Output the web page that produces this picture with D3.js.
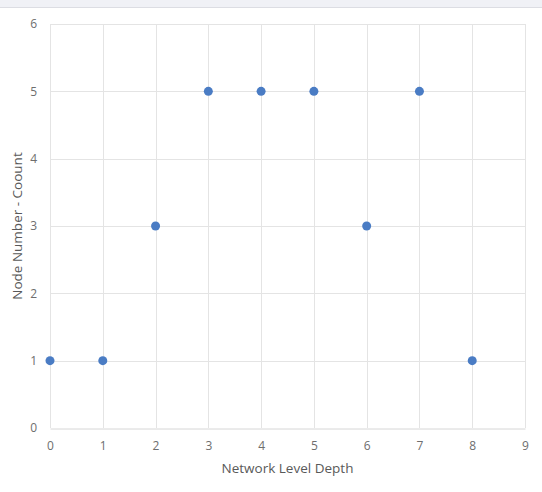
<!DOCTYPE html>
<html>
<head>
<meta charset="utf-8">
<script src="https://cdn.jsdelivr.net/npm/d3@7"></script>
<style>
  html, body { margin: 0; padding: 0; background: #ffffff; }
  svg { display: block; }
  text { font-family: "Open Sans", "Noto Sans", sans-serif; }
</style>
</head>
<body>
<svg id="chart" width="542" height="492"></svg>
<script>
// Node count per network level depth
const depths = [0, 1, 2, 3, 4, 5, 6, 7, 8];
const nodeCounts = [1, 1, 3, 5, 5, 5, 3, 5, 1];
const xTicks = [0, 1, 2, 3, 4, 5, 6, 7, 8, 9];
const yTicks = [0, 1, 2, 3, 4, 5, 6];
const xTitle = "Network Level Depth";
const yTitle = "Node Number - Coount";

const width = 542, height = 492;
const margin = { top: 24, right: 17, bottom: 64, left: 50 };

const svg = d3.select("#chart");

// light header strip across the top
svg.append("rect").attr("x", 0).attr("y", 0).attr("width", width).attr("height", 7)
  .attr("fill", "#f0f1f6");
svg.append("line").attr("x1", 0).attr("x2", width).attr("y1", 7.5).attr("y2", 7.5)
  .attr("stroke", "#dcdde3").attr("stroke-width", 1);

const x = d3.scaleLinear().domain([0, 9]).range([margin.left, width - margin.right]);
const y = d3.scaleLinear().domain([0, 6]).range([height - margin.bottom, margin.top]);

const grid = svg.append("g");
// horizontal gridlines
grid.selectAll("line.h").data(yTicks.filter(d => d > 0)).join("line")
  .attr("class", "h")
  .attr("x1", x(0)).attr("x2", x(9))
  .attr("y1", d => Math.round(y(d)) + 0.5).attr("y2", d => Math.round(y(d)) + 0.5)
  .attr("stroke", "#e4e4e4");
// vertical gridlines
grid.selectAll("line.v").data(xTicks).join("line")
  .attr("class", "v")
  .attr("x1", d => Math.round(x(d)) + 0.5).attr("x2", d => Math.round(x(d)) + 0.5)
  .attr("y1", y(6)).attr("y2", y(0))
  .attr("stroke", "#e4e4e4");

// bottom axis
const xAxis = svg.append("g")
  .attr("transform", `translate(0,${Math.round(y(0)) + 0.5})`)
  .call(d3.axisBottom(x).tickValues(xTicks).tickSize(0).tickPadding(13).tickFormat(d3.format("d")));
xAxis.select(".domain").attr("stroke", "#d6d6d6");
xAxis.selectAll("text").attr("fill", "#6e6e6e").attr("font-size", 12);

// left axis
const yAxis = svg.append("g")
  .attr("transform", `translate(${x(0)},0)`)
  .call(d3.axisLeft(y).tickValues(yTicks).tickSize(0).tickPadding(13).tickFormat(d3.format("d")));
yAxis.select(".domain").remove();
yAxis.selectAll("text").attr("fill", "#6e6e6e").attr("font-size", 12);

// axis titles
svg.append("text")
  .attr("x", (x(0) + x(9)) / 2).attr("y", 473)
  .attr("text-anchor", "middle").attr("font-size", 13.5).attr("fill", "#595959")
  .text(xTitle);
svg.append("text")
  .attr("transform", `translate(22,${(y(0) + y(6)) / 2}) rotate(-90)`)
  .attr("text-anchor", "middle").attr("font-size", 13.5).attr("fill", "#595959")
  .text(yTitle);

// data points
svg.append("g").selectAll("circle")
  .data(depths.map((d, i) => ({ d, n: nodeCounts[i] })))
  .join("circle")
  .attr("cx", p => x(p.d)).attr("cy", p => y(p.n)).attr("r", 4.5)
  .attr("fill", "#4a7cc4");
</script>
</body>
</html>
